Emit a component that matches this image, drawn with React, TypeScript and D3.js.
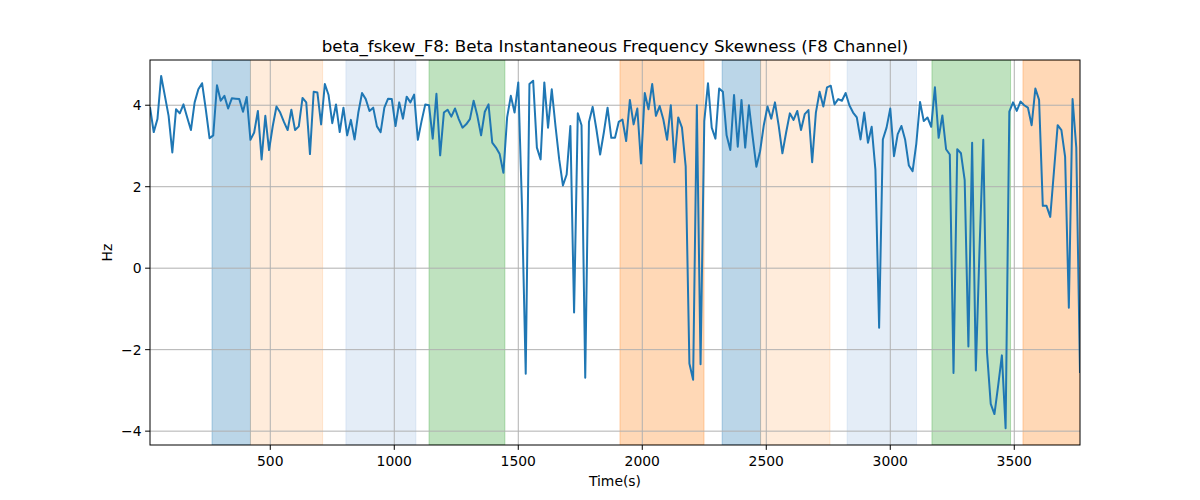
import React from "react";
import * as d3 from "d3";

// sample times: first sample and spacing (s)
const timeStart = 15;
const timeStep = 15;

const skewValues: number[] = [
  3.95, 3.34, 3.66, 4.72, 4.23, 3.74, 2.84, 3.9, 3.8, 4.02,
  3.7, 3.39, 4.07, 4.39, 4.54, 3.9, 3.19, 3.26, 4.49, 4.11,
  4.23, 3.92, 4.17, 4.16, 4.15, 3.84, 4.2, 3.15, 3.33, 3.86,
  2.67, 3.74, 2.9, 3.49, 3.97, 3.82, 3.59, 3.39, 3.89, 3.39,
  3.48, 4.18, 4.07, 2.8, 4.33, 4.31, 3.53, 4.52, 4.25, 3.56,
  4.02, 3.34, 3.94, 3.26, 3.64, 3.16, 3.82, 4.3, 4.15, 3.86,
  3.94, 3.48, 3.34, 3.94, 4.16, 4.15, 3.49, 4.07, 3.67, 4.21,
  4.07, 4.26, 3.15, 3.61, 4.02, 4.0, 3.18, 4.28, 2.77, 3.82,
  3.89, 3.72, 3.92, 3.66, 3.45, 3.53, 3.66, 4.11, 3.74, 3.26,
  3.84, 4.02, 3.08, 2.96, 2.8, 2.34, 3.7, 4.23, 3.82, 4.56,
  1.5, -2.59, 4.52, 4.6, 2.96, 2.67, 4.56, 3.45, 4.39, 3.49,
  2.67, 2.03, 2.3, 3.49, -1.09, 3.8, 3.51, -2.69, 3.59, 3.96,
  3.41, 2.79, 3.33, 3.94, 3.2, 3.2, 3.59, 3.65, 3.12, 4.13,
  3.53, 3.92, 2.57, 4.3, 3.9, 4.52, 3.74, 3.98, 3.65, 3.15,
  4.0, 2.6, 3.7, 3.45, 2.5, -2.34, -2.74, 4.0, -2.36, 3.61,
  4.54, 3.45, 3.18, 4.41, 4.33, 3.26, 2.9, 4.25, 2.98, 4.13,
  2.96, 4.0, 3.23, 2.49, 2.87, 3.51, 3.97, 3.67, 4.07, 3.5,
  2.82, 3.33, 3.8, 3.64, 3.86, 3.39, 3.78, 3.88, 2.6, 3.82,
  4.33, 3.97, 4.44, 4.48, 4.02, 4.15, 4.11, 4.3, 4.0, 3.82,
  3.7, 3.16, 3.82, 3.08, 3.47, 2.42, -1.46, 3.16, 3.45, 3.92,
  2.75, 3.29, 3.49, 3.15, 2.52, 2.38, 3.06, 4.08, 3.61, 3.7,
  3.47, 4.44, 3.2, 3.75, 2.92, 2.79, -2.57, 2.92, 2.82, 2.16,
  -1.92, 3.08, -2.51, 0.5, 3.15, -2.06, -3.33, -3.58, -2.88, -2.14,
  -3.93, 3.84, 4.07, 3.86, 4.09, 4.0, 3.94, 3.51, 4.41, 4.13,
  1.53, 1.53, 1.26, 2.38, 3.51, 3.39, 2.73, -0.97, 4.15, 2.96,
  -2.57,
];

// shaded intervals (s)
const spanStarts = [265, 420, 805, 1140, 1910, 2322, 2477, 2826, 3168, 3535];
const spanEnds = [420, 711, 1087, 1446, 2249, 2477, 2757, 3106, 3485, 3800];
const spanKinds = ["blue", "peach", "pale", "green", "orange", "blue", "peach", "pale", "green", "orange"];

const xTicks = [500, 1000, 1500, 2000, 2500, 3000, 3500];
const yTicks = [-4, -2, 0, 2, 4];

const spanColors: Record<string, { c: string; a: number }> = {
  blue: { c: "#1f77b4", a: 0.3 },
  peach: { c: "#ff7f0e", a: 0.15 },
  pale: { c: "#aec7e8", a: 0.33 },
  green: { c: "#2ca02c", a: 0.3 },
  orange: { c: "#ff7f0e", a: 0.3 },
};

const W = 1200;
const H = 500;
const margin = { left: 150, right: 120, top: 60, bottom: 55 };
const font = "DejaVu Sans, sans-serif";
const tickFont = 13.9;

export default function App() {
  const x0 = margin.left;
  const x1 = W - margin.right;
  const y0 = margin.top;
  const y1 = H - margin.bottom;

  const points = skewValues.map((v, i) => ({ t: timeStart + i * timeStep, v }));

  const x = d3.scaleLinear().domain([timeStart, points[points.length - 1].t]).range([x0, x1]);
  const y = d3.scaleLinear().domain([-4.34, 5.11]).range([y1, y0]);

  const line = d3
    .line<{ t: number; v: number }>()
    .x((d) => x(d.t))
    .y((d) => y(d.v));

  const fmt = (n: number) => (n < 0 ? "\u2212" + Math.abs(n) : String(n));

  return (
    <svg
      width={W}
      height={H}
      style={{ position: "absolute", left: 0, top: 0, background: "#fff" }}
      fontFamily={font}
    >
      <defs>
        <clipPath id="plot">
          <rect x={x0} y={y0} width={x1 - x0} height={y1 - y0} />
        </clipPath>
      </defs>

      {/* shaded spans */}
      <g clipPath="url(#plot)">
        {spanStarts.map((s, i) => {
          const sc = spanColors[spanKinds[i]];
          return (
            <rect
              key={i}
              x={x(s)}
              y={y0}
              width={x(spanEnds[i]) - x(s)}
              height={y1 - y0}
              fill={sc.c}
              fillOpacity={sc.a}
              stroke={sc.c}
              strokeOpacity={sc.a}
              strokeWidth={1}
            />
          );
        })}
      </g>

      {/* grid */}
      <g stroke="#b0b0b0" strokeWidth={1}>
        {xTicks.map((t) => (
          <line key={t} x1={x(t)} x2={x(t)} y1={y0} y2={y1} />
        ))}
        {yTicks.map((t) => (
          <line key={t} x1={x0} x2={x1} y1={y(t)} y2={y(t)} />
        ))}
      </g>

      {/* series */}
      <path
        d={line(points) || ""}
        fill="none"
        stroke="#1f77b4"
        strokeWidth={2}
        strokeLinejoin="round"
        clipPath="url(#plot)"
      />

      {/* spines */}
      <rect x={x0} y={y0} width={x1 - x0} height={y1 - y0} fill="none" stroke="#000" strokeWidth={1} />

      {/* x ticks */}
      {xTicks.map((t) => (
        <g key={t} transform={`translate(${x(t)},${y1})`}>
          <line y2={4.9} stroke="#000" strokeWidth={1} />
          <text y={21} textAnchor="middle" fontSize={tickFont} fill="#000">
            {fmt(t)}
          </text>
        </g>
      ))}

      {/* y ticks */}
      {yTicks.map((t) => (
        <g key={t} transform={`translate(${x0},${y(t)})`}>
          <line x2={-4.9} stroke="#000" strokeWidth={1} />
          <text x={-8.5} dy="0.35em" textAnchor="end" fontSize={tickFont} fill="#000">
            {fmt(t)}
          </text>
        </g>
      ))}

      <text x={(x0 + x1) / 2} y={486} textAnchor="middle" fontSize={tickFont} fill="#000">
        Time(s)
      </text>
      <text
        transform={`translate(112,${(y0 + y1) / 2}) rotate(-90)`}
        textAnchor="middle"
        fontSize={tickFont}
        fill="#000"
      >
        Hz
      </text>
      <text x={(x0 + x1) / 2} y={52} textAnchor="middle" fontSize={16.7} fill="#000">
        beta_fskew_F8: Beta Instantaneous Frequency Skewness (F8 Channel)
      </text>
    </svg>
  );
}
